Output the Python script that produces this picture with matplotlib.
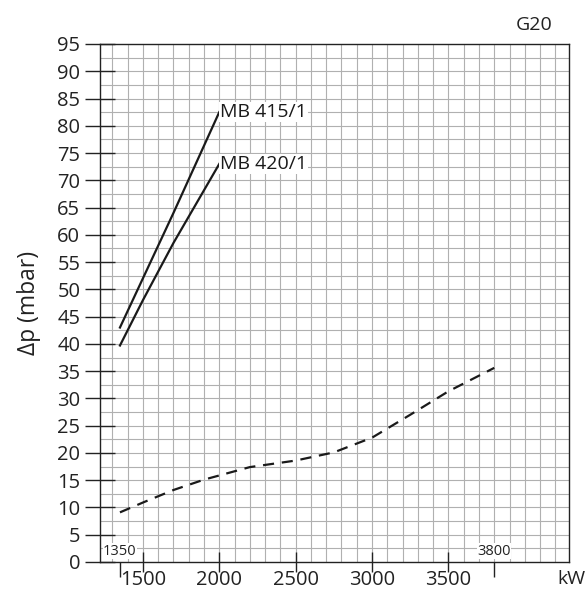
import numpy as np
import matplotlib.pyplot as plt

# pressure drop curves
x_415 = [1350, 1500, 1700, 2000]
y_415 = [43.0, 52.0, 64.0, 82.5]
x_420 = [1350, 1500, 1700, 2000]
y_420 = [39.7, 48.0, 58.5, 73.0]
x_gas = [1350, 1500, 1700, 1900, 2200, 2500, 2750, 3000, 3250, 3500, 3800]
y_gas = [9.1, 10.9, 13.2, 15.1, 17.4, 18.6, 20.1, 22.8, 27.0, 31.3, 35.6]

xticks = [1500, 2000, 2500, 3000, 3500]
yticks = list(range(0, 100, 5))
range_marks = [1350, 3800]

plt.rcParams['font.family'] = ['Open Sans', 'DejaVu Sans']

fig = plt.figure(figsize=(5.87, 5.92), dpi=100)
ax = fig.add_axes([0.170, 0.0507, 0.799, 0.875])

ax.set_xlim(1218, 4288)
ax.set_ylim(0, 95)

# fine grid
for gx in np.arange(1300, 4288, 100):
    ax.axvline(gx, color='#b0b0b0', lw=0.8, zorder=1)
for gy in np.arange(2.5, 95, 2.5):
    ax.axhline(gy, color='#b0b0b0', lw=0.8, zorder=1)

ax.plot(x_415, y_415, color='#1a1a1a', lw=1.6, zorder=3)
ax.plot(x_420, y_420, color='#1a1a1a', lw=1.6, zorder=3)
ax.plot(x_gas, y_gas, color='#1a1a1a', lw=1.6, ls=(0, (5, 3.5)), zorder=3)

ax.text(x_415[-1] + 5, y_415[-1], 'MB 415/1', fontsize=14, color='#1a1a1a',
        va='center', ha='left', zorder=4,
        bbox=dict(facecolor='white', edgecolor='none', pad=0.5))
ax.text(x_420[-1] + 5, y_420[-1], 'MB 420/1', fontsize=14, color='#1a1a1a',
        va='center', ha='left', zorder=4,
        bbox=dict(facecolor='white', edgecolor='none', pad=0.5))

ax.set_xticks(xticks)
ax.set_yticks(yticks)
ax.tick_params(axis='both', direction='inout', length=18, width=1.0,
               color='#222222', labelsize=14.5, labelcolor='#222222')
ax.tick_params(axis='x', length=14, pad=-1)
ax.tick_params(axis='y', length=22, pad=3)

# range limits below the axis
ax.set_xticks(range_marks, minor=True)
ax.tick_params(axis='x', which='minor', direction='out', length=11, width=1.0, color='#222222')
for rm in range_marks:
    ax.text(rm, 0.6, str(rm), fontsize=10.5, color='#222222', ha='center', va='bottom', zorder=4,
            bbox=dict(facecolor='white', edgecolor='none', pad=0.3))

for s in ax.spines.values():
    s.set_color('#222222')
    s.set_linewidth(1.0)
    s.set_zorder(5)

ax.set_ylabel('Δp (mbar)', fontsize=16.5, color='#222222', labelpad=12)
fig.text(0.998, 0.022, 'kW', fontsize=14, color='#222222', ha='right', va='center')
fig.text(0.91, 0.958, 'G20', fontsize=14, color='#222222', ha='center', va='center')

fig.savefig('out.png', dpi=100)
